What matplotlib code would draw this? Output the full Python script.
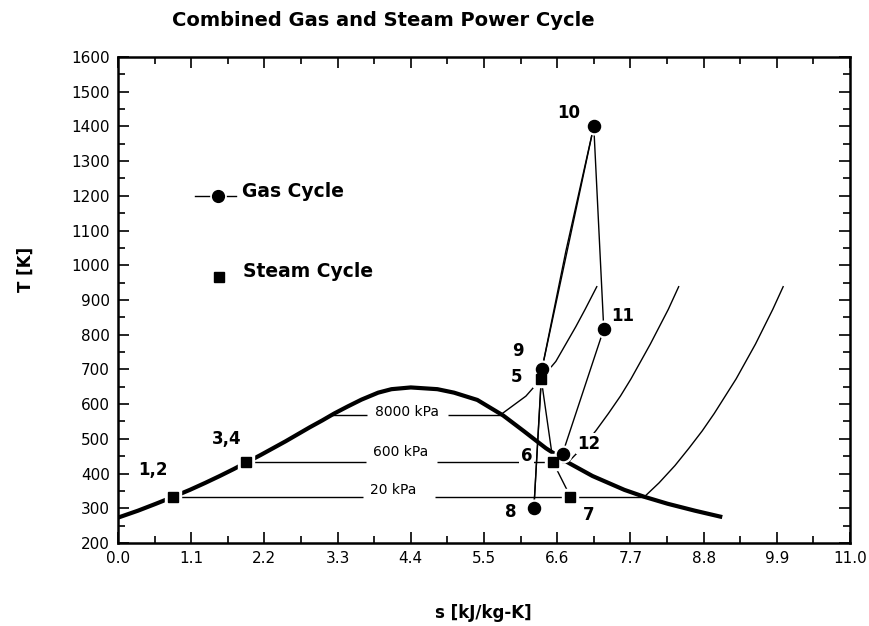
import numpy as np
import matplotlib.pyplot as plt
from matplotlib.ticker import MultipleLocator, FormatStrFormatter

# saturation dome of water, s [kJ/kg-K] vs T [K]
dome_s = [0.00, 0.30, 0.57, 0.83, 1.08, 1.31, 1.53, 1.74, 1.93, 2.14, 2.33, 2.52, 2.70,
          2.88, 3.07, 3.25, 3.45, 3.66, 3.91, 4.11, 4.40, 4.80, 5.05, 5.40, 5.79, 6.10,
          6.43, 6.76, 7.13, 7.61, 7.91, 8.26, 8.67, 9.05]
dome_T = [273, 293, 313, 333, 353, 373, 393, 413, 432, 453, 473, 493, 513,
          533, 553, 573, 593, 613, 633, 643, 648, 643, 633, 612, 567, 522,
          473, 432, 393, 353, 333, 313, 293, 276]

# isobars in the superheated region
p8000_s = [5.74, 6.13, 6.36, 6.58, 6.73, 6.88, 7.02, 7.20]
p8000_T = [568, 623, 673, 723, 773, 823, 873, 940]
p600_s = [6.76, 6.97, 7.18, 7.37, 7.55, 7.71, 8.00, 8.27, 8.43]
p600_T = [432, 473, 523, 573, 623, 673, 773, 873, 940]
p20_s = [7.91, 8.13, 8.37, 8.58, 8.78, 8.96, 9.29, 9.58, 9.84, 10.00]
p20_T = [333, 373, 423, 473, 523, 573, 673, 773, 873, 940]

# two-phase lines: s_f, gap around the label, s_g, T_sat, label position
p_names = ['8000 kPa', '600 kPa', '20 kPa']
p_sf = [3.21, 1.93, 0.83]
p_gap_lo = [3.74, 3.73, 3.68]
p_gap_hi = [4.96, 4.79, 4.76]
p_sg = [5.74, 6.76, 7.91]
p_Tsat = [568, 432, 333]
p_lab_s = [4.34, 4.25, 4.13]
p_lab_T = [577, 462, 352]

# gas cycle states 8..12
gas_lab = ['8', '9', '10', '11', '12']
gas_s = [6.25, 6.37, 7.15, 7.30, 6.68]
gas_T = [300, 700, 1400, 816, 457]
gas_heat_s = [6.37, 6.73, 7.15]
gas_heat_T = [700, 1040, 1400]
gas_lab_s = [5.90, 6.01, 6.78, 7.59, 7.07]
gas_lab_T = [288, 753, 1438, 855, 486]

# steam cycle states
steam_lab = ['1,2', '3,4', '5', '6', '7']
steam_s = [0.83, 1.93, 6.36, 6.54, 6.80]
steam_T = [333, 432, 673, 432, 333]
steam_lab_s = [0.52, 1.63, 5.99, 6.14, 7.07]
steam_lab_T = [410, 500, 677, 450, 281]

fig = plt.figure(figsize=(8.7, 6.26), dpi=100)
ax = fig.add_axes([0.1356, 0.1326, 0.8414, 0.7765])

thin = dict(color='black', lw=1.0, solid_capstyle='butt')
ax.plot(dome_s, dome_T, color='black', lw=3.0, zorder=2)
ax.plot(p8000_s, p8000_T, **thin)
ax.plot(p600_s, p600_T, **thin)
ax.plot(p20_s, p20_T, **thin)
for i in range(3):
    ax.plot([p_sf[i], p_gap_lo[i]], [p_Tsat[i]] * 2, **thin)
    ax.plot([p_gap_hi[i], p_sg[i]], [p_Tsat[i]] * 2, **thin)
    ax.text(p_lab_s[i], p_lab_T[i], p_names[i], fontsize=10, ha='center', va='center')

# process lines
ax.plot(gas_s, gas_T, **thin)
ax.plot(gas_heat_s, gas_heat_T, **thin)
ax.plot([gas_s[0], steam_s[2]], [gas_T[0], steam_T[2]], **thin)
ax.plot(steam_s[2:], steam_T[2:], **thin)

# markers with a white halo
ax.plot(gas_s, gas_T, 'o', color='white', ms=12, zorder=4)
ax.plot(steam_s, steam_T, 's', color='white', ms=11, zorder=4)
ax.plot(steam_s, steam_T, 's', color='black', ms=7.8, zorder=5)
ax.plot(gas_s, gas_T, 'o', color='black', ms=8.7, zorder=5)

lab_box = dict(facecolor='white', edgecolor='none', pad=1.0)
for i in range(5):
    ax.text(gas_lab_s[i], gas_lab_T[i], gas_lab[i], fontsize=12, fontweight='bold',
            ha='center', va='center', bbox=lab_box, zorder=3)
    ax.text(steam_lab_s[i], steam_lab_T[i], steam_lab[i], fontsize=12, fontweight='bold',
            ha='center', va='center', bbox=lab_box, zorder=3)

# legend
ax.plot([1.16, 1.78], [1200, 1200], color='black', lw=1.0)
ax.plot([1.5], [1200], 'o', color='white', ms=11, zorder=4)
ax.plot([1.5], [1200], 'o', color='black', ms=8.5, zorder=5)
ax.text(1.86, 1212, 'Gas Cycle', fontsize=13.5, fontweight='bold', va='center')
ax.plot([1.52], [965], 's', color='black', ms=7.8)
ax.text(1.88, 982, 'Steam Cycle', fontsize=13.5, fontweight='bold', va='center')

ax.set_xlim(0, 11)
ax.set_ylim(200, 1600)
ax.xaxis.set_major_locator(MultipleLocator(1.1))
ax.xaxis.set_minor_locator(MultipleLocator(0.55))
ax.xaxis.set_major_formatter(FormatStrFormatter('%.1f'))
ax.yaxis.set_major_locator(MultipleLocator(100))
ax.yaxis.set_minor_locator(MultipleLocator(50))
ax.tick_params(which='both', direction='in', top=True, right=True, labelsize=11, width=1.2)
ax.tick_params(which='major', length=8, pad=6)
ax.tick_params(which='minor', length=5)
for sp in ax.spines.values():
    sp.set_linewidth(1.8)

fig.text(0.556, 0.02, 's [kJ/kg-K]', fontsize=12, fontweight='bold', ha='center', va='center')
fig.text(0.03, 0.57, 'T [K]', fontsize=12, fontweight='bold', rotation=90, ha='center', va='center')
fig.text(0.441, 0.967, 'Combined Gas and Steam Power Cycle', fontsize=14, fontweight='bold',
         ha='center', va='center')

fig.savefig('out.png', dpi=100)
